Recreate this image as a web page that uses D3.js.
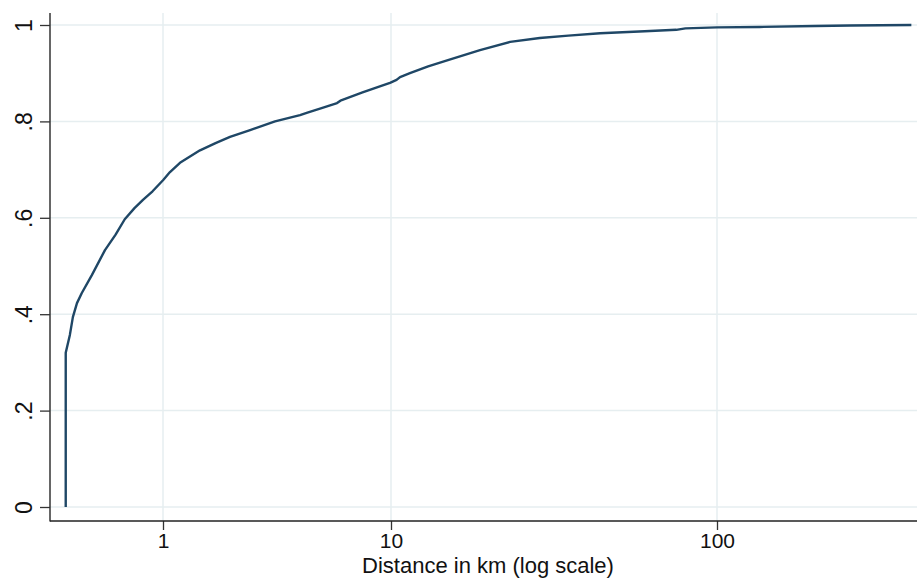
<!DOCTYPE html>
<html>
<head>
<meta charset="utf-8">
<script src="https://cdn.jsdelivr.net/npm/d3@7"></script>
<style>
  body { margin: 0; background: #fff; }
  text { font-family: "Liberation Sans", Arial, sans-serif; fill: #111; }
</style>
</head>
<body>
<svg id="chart"></svg>
<script>
// cumulative share of observations by distance (km)
const distance = [0.375, 0.375, 0.391, 0.403, 0.42, 0.441, 0.488, 0.557, 0.62, 0.68, 0.75, 0.817,
  0.9, 1, 1.073, 1.187, 1.453, 1.7, 1.967, 2.41, 3.1, 3.99, 4.3, 5.0, 5.8, 6.0, 7.5, 9.0, 9.9,
  10.4, 10.66, 11.43, 13, 14.95, 18.75, 23.2, 28.6, 35, 43.8, 60, 75, 80, 100, 135, 200, 256, 394];
const share = [0, 0.32, 0.357, 0.394, 0.423, 0.444, 0.481, 0.533, 0.565, 0.597, 0.62, 0.637,
  0.655, 0.678, 0.695, 0.714, 0.74, 0.755, 0.768, 0.782, 0.80, 0.813, 0.818, 0.828, 0.838, 0.843,
  0.86, 0.873, 0.880, 0.886, 0.892, 0.90, 0.914, 0.927, 0.948, 0.965, 0.973, 0.978, 0.983, 0.987,
  0.990, 0.993, 0.995, 0.996, 0.998, 0.999, 1.0];
const xTicks = [1, 10, 100];
const yTicks = [0, 0.2, 0.4, 0.6, 0.8, 1];
const yTickLabels = ["0", ".2", ".4", ".6", ".8", "1"];
const xTitle = "Distance in km (log scale)";

const width = 917, height = 579;
const plotLeft = 50, plotBottom = 521, plotTop = 13;

const svg = d3.select("#chart")
    .attr("width", width)
    .attr("height", height);

// log axis, decades are not all the same width in the picture
const x = d3.scaleLog()
    .domain([0.32, 1, 10, 100, 410])
    .range([plotLeft, 163, 391, 717, width]);

const y = d3.scaleLinear()
    .domain([0, 1])
    .range([507, 25]);

const gridColor = "#e6eef0";

// grid
svg.append("g").selectAll("line")
    .data(yTicks)
  .enter().append("line")
    .attr("x1", plotLeft).attr("x2", width)
    .attr("y1", d => y(d)).attr("y2", d => y(d))
    .attr("stroke", gridColor).attr("stroke-width", 1.5);

svg.append("g").selectAll("line")
    .data(xTicks)
  .enter().append("line")
    .attr("x1", d => x(d)).attr("x2", d => x(d))
    .attr("y1", plotTop).attr("y2", plotBottom)
    .attr("stroke", gridColor).attr("stroke-width", 1.5);

// axes
const yAxis = svg.append("g")
    .attr("transform", "translate(" + plotLeft + ",0)")
    .call(d3.axisLeft(y).tickValues(yTicks).tickSize(10).tickSizeOuter(0)
      .tickFormat((d, i) => yTickLabels[i]));
yAxis.select(".domain").remove();
yAxis.selectAll(".tick line").attr("stroke", "#333").attr("stroke-width", 1.3);
// rotated labels, baseline toward the axis
yAxis.selectAll(".tick text")
    .attr("transform", "rotate(-90)")
    .attr("x", 0)
    .attr("y", -18)
    .attr("dy", null)
    .attr("text-anchor", "middle")
    .style("font-size", "23px");

const xAxis = svg.append("g")
    .attr("transform", "translate(0," + plotBottom + ")")
    .call(d3.axisBottom(x).tickValues(xTicks).tickSize(9).tickSizeOuter(0)
      .tickFormat(d3.format("d")));
xAxis.select(".domain").remove();
xAxis.selectAll(".tick line").attr("stroke", "#333").attr("stroke-width", 1.3);
xAxis.selectAll(".tick text")
    .attr("y", 27).attr("dy", null)
    .style("font-size", "21px");

svg.append("line")
    .attr("x1", plotLeft).attr("x2", plotLeft)
    .attr("y1", plotTop).attr("y2", plotBottom + 0.5)
    .attr("stroke", "#333").attr("stroke-width", 1.5);
svg.append("line")
    .attr("x1", plotLeft).attr("x2", width)
    .attr("y1", plotBottom).attr("y2", plotBottom)
    .attr("stroke", "#222").attr("stroke-width", 1.5);

svg.append("text")
    .attr("x", 488).attr("y", 573)
    .attr("text-anchor", "middle")
    .style("font-size", "22px")
    .text(xTitle);

// the curve
const line = d3.line()
    .x((d, i) => x(distance[i]))
    .y(d => y(d));

svg.append("path")
    .datum(share)
    .attr("fill", "none")
    .attr("stroke", "#1f4766")
    .attr("stroke-width", 2.4)
    .attr("stroke-linejoin", "round")
    .attr("d", line);
</script>
</body>
</html>
